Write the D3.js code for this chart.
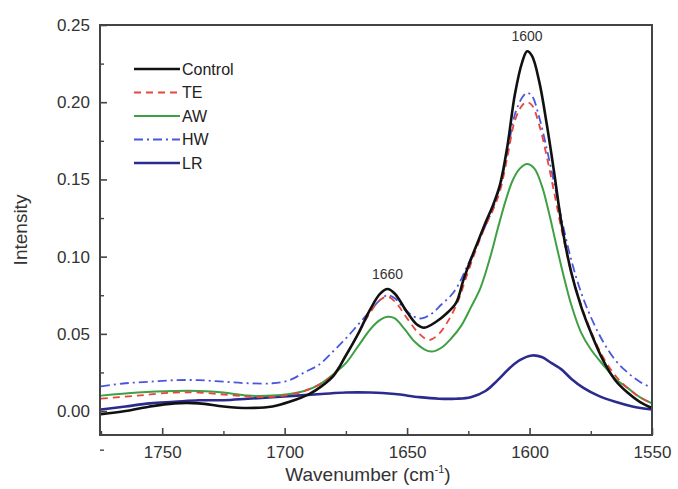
<!DOCTYPE html>
<html><head><meta charset="utf-8">
<script src="https://cdn.jsdelivr.net/npm/d3@7/dist/d3.min.js"></script>
<style>
body{margin:0;background:#fff;}
svg{display:block;font-family:"Liberation Sans",Arial,sans-serif;}
</style></head>
<body>
<svg id="chart" width="678" height="489"></svg>
<script>
const seriesNames = ["Control","TE","AW","HW","LR"];
const controlData = [[1775,-0.002],[1765,0.000],[1755,0.003],[1745,0.005],[1735,0.005],[1725,0.003],[1715,0.002],[1705,0.003],[1698,0.006],[1690,0.011],[1685,0.016],[1680,0.023],[1675,0.036],[1670,0.050],[1665,0.066],[1661,0.076],[1658,0.079],[1655,0.076],[1650,0.064],[1646,0.056],[1643,0.054],[1638,0.058],[1634,0.063],[1630,0.070],[1627,0.085],[1624,0.098],[1621,0.110],[1618,0.122],[1615,0.133],[1612,0.147],[1609,0.172],[1606,0.205],[1603,0.226],[1601,0.233],[1599,0.230],[1596,0.213],[1593,0.186],[1590,0.155],[1587,0.122],[1583,0.090],[1579,0.068],[1575,0.051],[1570,0.033],[1565,0.020],[1560,0.012],[1555,0.006],[1550,0.002]];
const teData = [[1775,0.008],[1760,0.010],[1745,0.012],[1735,0.012],[1720,0.010],[1710,0.009],[1700,0.010],[1692,0.013],[1685,0.018],[1680,0.024],[1675,0.036],[1670,0.050],[1665,0.064],[1661,0.072],[1658,0.074],[1655,0.071],[1650,0.060],[1645,0.050],[1641,0.046],[1637,0.050],[1633,0.059],[1629,0.072],[1626,0.086],[1622,0.104],[1618,0.120],[1615,0.130],[1612,0.143],[1609,0.165],[1606,0.188],[1603,0.198],[1601,0.200],[1599,0.198],[1596,0.185],[1593,0.165],[1590,0.142],[1587,0.118],[1583,0.090],[1579,0.069],[1575,0.052],[1570,0.035],[1565,0.023],[1560,0.015],[1555,0.009],[1550,0.005]];
const awData = [[1775,0.010],[1760,0.012],[1745,0.013],[1735,0.013],[1725,0.012],[1715,0.010],[1705,0.010],[1698,0.011],[1692,0.013],[1686,0.017],[1680,0.024],[1675,0.031],[1670,0.042],[1665,0.053],[1661,0.059],[1658,0.061],[1655,0.060],[1651,0.053],[1647,0.045],[1643,0.040],[1640,0.0385],[1636,0.041],[1632,0.047],[1628,0.055],[1624,0.067],[1620,0.080],[1616,0.100],[1613,0.118],[1610,0.135],[1607,0.149],[1604,0.157],[1601,0.160],[1598,0.157],[1595,0.146],[1592,0.128],[1589,0.107],[1586,0.087],[1583,0.069],[1579,0.051],[1575,0.040],[1570,0.030],[1565,0.021],[1560,0.015],[1555,0.009],[1550,0.005]];
const hwData = [[1775,0.016],[1765,0.018],[1755,0.019],[1745,0.020],[1735,0.020],[1725,0.019],[1715,0.018],[1705,0.018],[1698,0.020],[1692,0.025],[1686,0.030],[1680,0.039],[1675,0.047],[1670,0.056],[1665,0.065],[1661,0.072],[1658,0.075],[1655,0.073],[1651,0.066],[1647,0.061],[1644,0.060],[1640,0.063],[1636,0.069],[1632,0.075],[1629,0.082],[1626,0.092],[1622,0.106],[1618,0.120],[1615,0.131],[1612,0.146],[1609,0.168],[1606,0.192],[1603,0.203],[1601,0.206],[1599,0.204],[1596,0.190],[1593,0.170],[1590,0.148],[1587,0.125],[1583,0.098],[1579,0.077],[1575,0.061],[1570,0.045],[1565,0.033],[1560,0.025],[1555,0.019],[1550,0.015]];
const lrData = [[1775,0.001],[1765,0.003],[1755,0.005],[1745,0.006],[1735,0.007],[1725,0.007],[1715,0.008],[1705,0.009],[1695,0.010],[1685,0.011],[1675,0.012],[1665,0.012],[1655,0.011],[1645,0.009],[1637,0.008],[1630,0.008],[1624,0.009],[1618,0.013],[1613,0.020],[1608,0.028],[1604,0.033],[1599,0.036],[1595,0.035],[1591,0.031],[1587,0.027],[1583,0.021],[1578,0.015],[1572,0.010],[1565,0.006],[1558,0.003],[1550,0.001]];
const xTicks = [1750,1700,1650,1600,1550];
const xMinorTicks = [1775,1725,1675,1625,1575];
const yTicks = [0.00,0.05,0.10,0.15,0.20,0.25];
const yMinorTicks = [-0.025,0.025,0.075,0.125,0.175,0.225];
const peakLabels = [[1601,0.233,"1600"],[1658,0.079,"1660"]];

const series = [
  {name:"Control", data:controlData, color:"#111111", width:2.6, dash:null},
  {name:"TE", data:teData, color:"#e8453c", width:1.8, dash:"7,5"},
  {name:"AW", data:awData, color:"#3ea043", width:2.0, dash:null},
  {name:"HW", data:hwData, color:"#4a56e0", width:1.8, dash:"9,4,2,4"},
  {name:"LR", data:lrData, color:"#2b2b8f", width:2.6, dash:null}
];

const svg = d3.select("#chart");
const L=100, R=652, T=25, B=435;
const x = d3.scaleLinear().domain([1775.4,1550]).range([L,R]);
const y = d3.scaleLinear().domain([-0.0155,0.25]).range([B,T]);

svg.append("defs").append("clipPath").attr("id","clip")
  .append("rect").attr("x",L).attr("y",T).attr("width",R-L).attr("height",B-T);

const line = d3.line().x(d=>x(d[0])).y(d=>y(d[1])).curve(d3.curveCatmullRom.alpha(0.5));
const g = svg.append("g").attr("clip-path","url(#clip)");
const order = [4,2,3,1,0];
order.forEach(i=>{
  const s = series[i];
  g.append("path").datum(s.data).attr("d",line).attr("fill","none")
   .attr("stroke",s.color).attr("stroke-width",s.width)
   .attr("stroke-dasharray",s.dash).attr("stroke-linejoin","round");
});

// frame
const axisColor="#444";
svg.append("rect").attr("x",L).attr("y",T).attr("width",R-L).attr("height",B-T)
  .attr("fill","none").attr("stroke",axisColor).attr("stroke-width",2);

// x ticks
const xAxis = d3.axisBottom(x).tickValues(xTicks).tickSize(-7).tickPadding(11).tickFormat(d3.format("d"));
const gx = svg.append("g").attr("transform",`translate(0,${B})`).call(xAxis);
gx.select(".domain").remove();
gx.selectAll(".tick line").attr("stroke",axisColor).attr("stroke-width",1.6);
gx.selectAll(".tick text").attr("font-size",17).attr("fill","#333").attr("font-family","Liberation Sans, Arial, sans-serif");
const xMinor = d3.axisBottom(x).tickValues(xMinorTicks).tickSize(-4).tickFormat("");
const gxm = svg.append("g").attr("transform",`translate(0,${B})`).call(xMinor);
gxm.select(".domain").remove();
gxm.selectAll(".tick line").attr("stroke",axisColor).attr("stroke-width",1.4);

// y ticks
const yAxis = d3.axisLeft(y).tickValues(yTicks).tickSize(-7).tickPadding(10).tickFormat(d3.format(".2f"));
const gy = svg.append("g").attr("transform",`translate(${L},0)`).call(yAxis);
gy.select(".domain").remove();
gy.selectAll(".tick line").attr("stroke",axisColor).attr("stroke-width",1.6);
gy.selectAll(".tick text").attr("font-size",17).attr("fill","#333").attr("font-family","Liberation Sans, Arial, sans-serif");
const yMinor = d3.axisLeft(y).tickValues(yMinorTicks).tickSize(-4).tickFormat("");
const gym = svg.append("g").attr("transform",`translate(${L},0)`).call(yMinor);
gym.select(".domain").remove();
gym.selectAll(".tick line").attr("stroke",axisColor).attr("stroke-width",1.4);

// axis titles
const xt = svg.append("text").attr("x",(L+R)/2 - 8).attr("y",481).attr("text-anchor","middle")
  .attr("font-size",19).attr("fill","#333");
xt.append("tspan").text("Wavenumber (cm");
xt.append("tspan").attr("font-size",11).attr("dy",-8).text("-1");
xt.append("tspan").attr("dy",8).text(")");
svg.append("text").attr("transform",`translate(27,${(T+B)/2}) rotate(-90)`).attr("text-anchor","middle")
  .attr("font-size",19).attr("fill","#333").text("Intensity");

// peak labels
peakLabels.forEach(p=>{
  svg.append("text").attr("x",x(p[0])).attr("y",y(p[1])-10).attr("text-anchor","middle")
    .attr("font-size",14).attr("fill","#333").text(p[2]);
});

// legend
series.forEach((s,i)=>{
  const ly = 69 + i*23.5;
  svg.append("line").attr("x1",134).attr("x2",180).attr("y1",ly).attr("y2",ly)
    .attr("stroke",s.color).attr("stroke-width",s.width).attr("stroke-dasharray",s.dash);
  svg.append("text").attr("x",182).attr("y",ly+5.5).attr("font-size",16).attr("fill","#222").text(s.name);
});
</script>
</body></html>
